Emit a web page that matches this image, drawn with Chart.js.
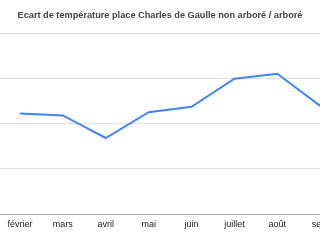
<!DOCTYPE html>
<html>
<head>
<meta charset="utf-8">
<script src="https://cdn.jsdelivr.net/npm/chart.js@4/dist/chart.umd.min.js"></script>
<style>
  html, body { margin: 0; padding: 0; width: 320px; height: 240px; overflow: hidden; background: #fff; }
  #wrap { position: absolute; left: -40px; top: 0; width: 400px; height: 240px; }
</style>
</head>
<body>
<div id="wrap"><canvas id="chart"></canvas></div>
<script>
// Month labels (the chart is a cropped view: janvier and the end of the year are off-screen)
const months = ['février', 'mars', 'avril', 'mai', 'juin', 'juillet', 'août', 'sept'];
// Temperature gap, non-wooded minus wooded (°C)
const ecart = [2.22, 2.18, 1.68, 2.25, 2.37, 2.99, 3.10, 2.39];
const yTicks = [0, 1, 2, 3, 4];

const FONT = "'Liberation Sans', Arial, sans-serif";

new Chart(document.getElementById('chart'), {
  type: 'line',
  data: {
    datasets: [{
      label: 'Ecart',
      data: months.map((m, i) => ({ x: i, y: ecart[i] })),
      borderColor: '#4285f4',
      backgroundColor: 'transparent',
      borderWidth: 2,
      pointRadius: 0,
      tension: 0,
    }]
  },
  options: {
    responsive: true,
    maintainAspectRatio: false,
    animation: false,
    plugins: {
      legend: { display: false },
      tooltip: { enabled: false },
      title: {
        display: true,
        text: 'Ecart de température place Charles de Gaulle non arboré / arboré',
        color: '#444',
        font: { family: FONT, size: 9.2, weight: 'bold', lineHeight: 1.2 },
        padding: { top: 10, bottom: 12 }
      }
    },
    scales: {
      x: {
        type: 'linear',
        min: -1.399,
        max: 7.929,
        grid: { display: false, drawTicks: false },
        border: { display: false },
        ticks: {
          stepSize: 1,
          includeBounds: false,
          autoSkip: false,
          maxRotation: 0,
          padding: 5,
          color: '#222',
          font: { family: FONT, size: 9 },
          callback: v => months[v] ?? ''
        },
        afterFit: s => { s.height = 26; }
      },
      y: {
        min: yTicks[0],
        max: yTicks[yTicks.length - 1],
        grid: {
          drawTicks: false,
          color: c => c.tick.value === 0 ? '#aaa' : '#e0e0e0'
        },
        border: { display: false },
        ticks: { display: false, stepSize: 1 }
      }
    }
  }
});
</script>
</body>
</html>
